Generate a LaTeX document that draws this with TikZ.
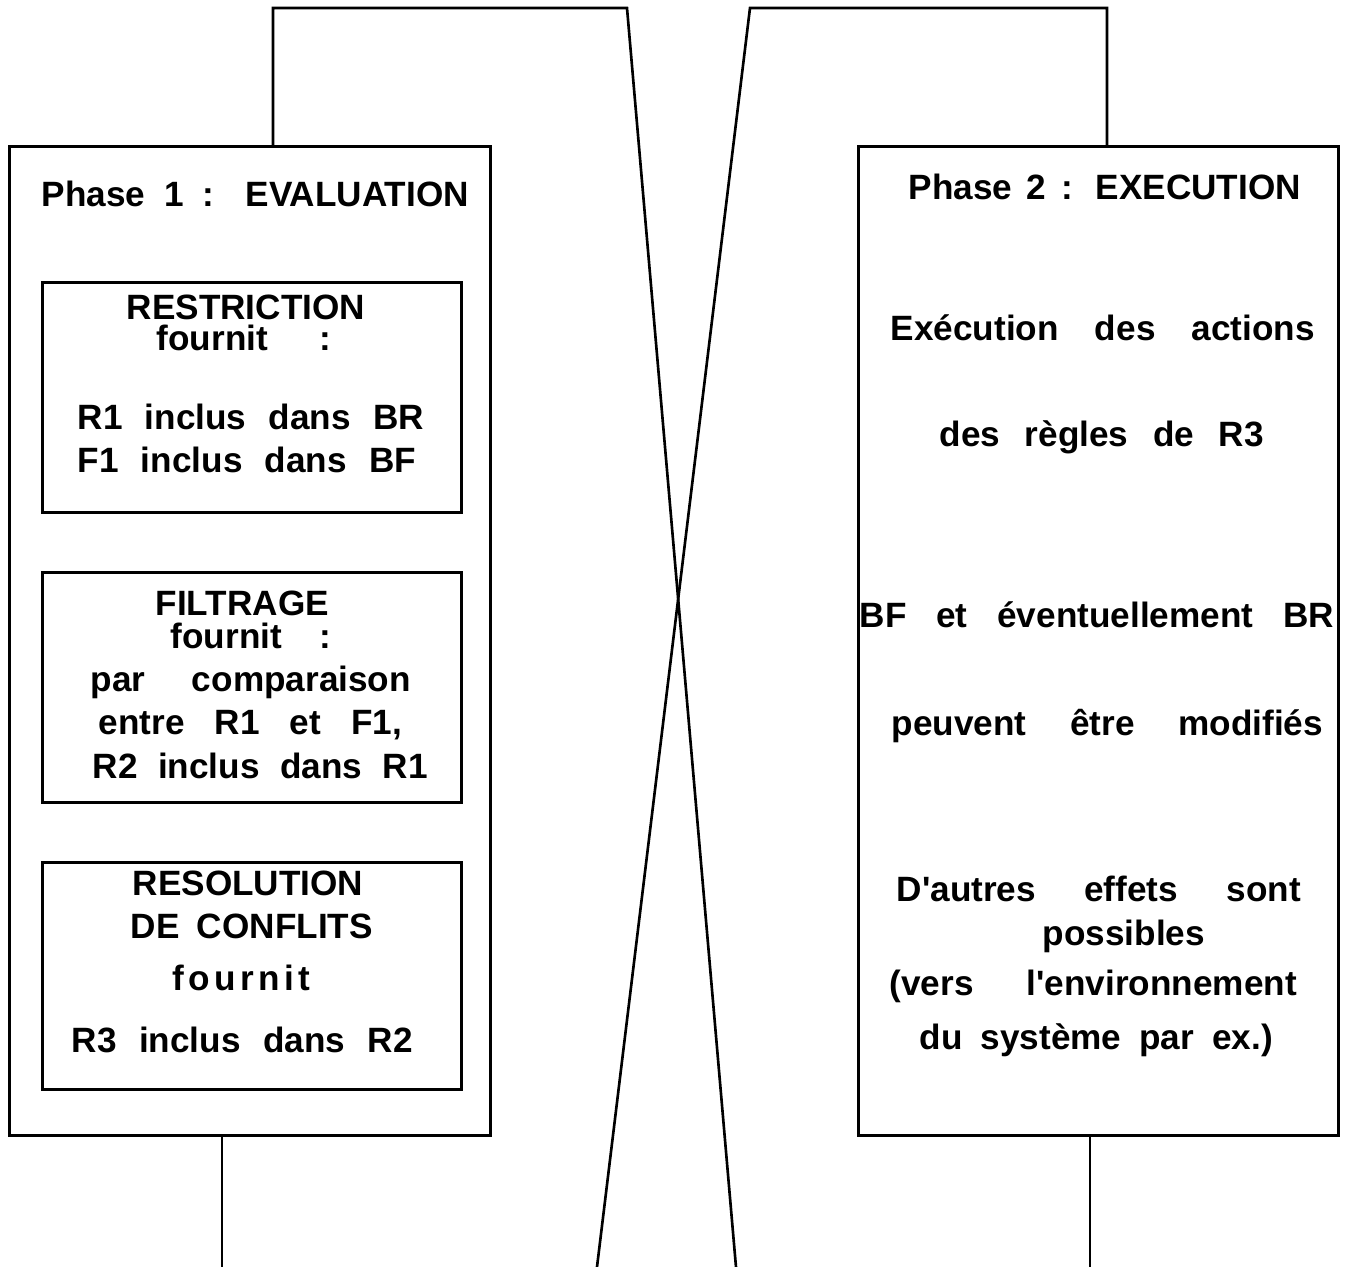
\documentclass[tikz,border=0pt]{standalone}
\usepackage{fontspec}
\newfontfamily\phasefont{Liberation Sans}
\usetikzlibrary{calc, positioning}

% spread a line of text over a given width
\newcommand{\spreadline}[2]{\makebox[#1][s]{#2}}

\tikzset{
    phasebox/.style={draw, line width=0.9pt, anchor=north west, inner sep=0pt},
    stagebox/.style={draw, line width=0.8pt, anchor=north west, inner sep=0pt},
    textline/.style={anchor=base west, inner sep=0pt, font=\phasefont\bfseries\fontsize{10}{12}\selectfont},
    link/.style={line width=0.75pt}
}

\begin{document}
\begin{tikzpicture}[x=0.01cm, y=-0.01cm]

    \useasboundingbox (0,0) rectangle (1347,1267);

    % Boxes
    \node[phasebox, minimum width=4.81cm, minimum height=9.88cm] (eval) at (8,145) {};
    \node[phasebox, minimum width=4.80cm, minimum height=9.88cm] (exec) at (857,145) {};
    \node[stagebox, minimum width=4.19cm, minimum height=2.30cm] (restrbox) at (41,281) {};
    \node[stagebox, minimum width=4.19cm, minimum height=2.30cm] (filtbox) at (41,571) {};
    \node[stagebox, minimum width=4.19cm, minimum height=2.27cm] (resolbox) at (41,861) {};

    % Connectors
    \coordinate (lefttop) at (273,8);
    \coordinate (leftturn) at (627,8);
    \coordinate (leftend) at (736,1267);
    \coordinate (righttop) at (1107,8);
    \coordinate (rightturn) at (750,8);
    \coordinate (rightend) at (597,1267);
    \coordinate (leftfoot) at (222,1267);
    \coordinate (rightfoot) at (1090,1267);
    \draw[link] (lefttop |- eval.north) -- (lefttop) -- (leftturn) -- (leftend);
    \draw[link] (righttop |- exec.north) -- (righttop) -- (rightturn) -- (rightend);
    \draw[link] (leftfoot |- eval.south) -- (leftfoot);
    \draw[link] (rightfoot |- exec.south) -- (rightfoot);

    % Phase 1
    \node[textline] (title1) at (41,207) {\spreadline{4.27cm}{Phase 1 : EVALUATION}};
    \node[textline] (restr) at (126,320) {RESTRICTION};
    \node[textline] (fourn1) at (156,351) {\spreadline{1.74cm}{fournit :}};
    \node[textline] (incl1) at (77,430) {\spreadline{3.46cm}{R1 inclus dans BR}};
    \node[textline] (incl2) at (77,473) {\spreadline{3.38cm}{F1 inclus dans BF}};
    \node[textline] (filt) at (155,616) {FILTRAGE};
    \node[textline] (fourn2) at (170,649) {\spreadline{1.60cm}{fournit :}};
    \node[textline] (comp) at (90,692) {\spreadline{3.20cm}{par comparaison}};
    \node[textline] (entre) at (98,735) {\spreadline{3.03cm}{entre R1 et F1,}};
    \node[textline] (incl3) at (92,779) {\spreadline{3.35cm}{R2 inclus dans R1}};
    \node[textline] (resol) at (132,896) {RESOLUTION};
    \node[textline] (confl) at (130,939) {\spreadline{2.42cm}{DE CONFLITS}};
    \node[textline] (fourn3) at (172,991) {\makebox[1.37cm][s]{f\hfil o\hfil u\hfil r\hfil n\hfil i\hfil t}};
    \node[textline] (incl4) at (71,1053) {\spreadline{3.41cm}{R3 inclus dans R2}};

    % Phase 2
    \node[textline] (title2) at (908,200) {\spreadline{3.92cm}{Phase 2 : EXECUTION}};
    \node[textline] (exec1) at (890,341) {\spreadline{4.24cm}{Exécution des actions}};
    \node[textline] (regl) at (939,447) {\spreadline{3.24cm}{des règles de R3}};
    \node[textline] (bfbr) at (859,628) {\spreadline{4.74cm}{BF et éventuellement BR}};
    \node[textline] (modif) at (891,736) {\spreadline{4.31cm}{peuvent être modifiés}};
    \node[textline] (autres) at (896,902) {\spreadline{4.04cm}{D'autres effets sont}};
    \node[textline] (poss) at (1042,946) {possibles};
    \node[textline] (vers) at (889,996) {\spreadline{4.07cm}{(vers l'environnement}};
    \node[textline] (syst) at (919,1050) {\spreadline{3.53cm}{du système par ex.)}};

\end{tikzpicture}
\end{document}
